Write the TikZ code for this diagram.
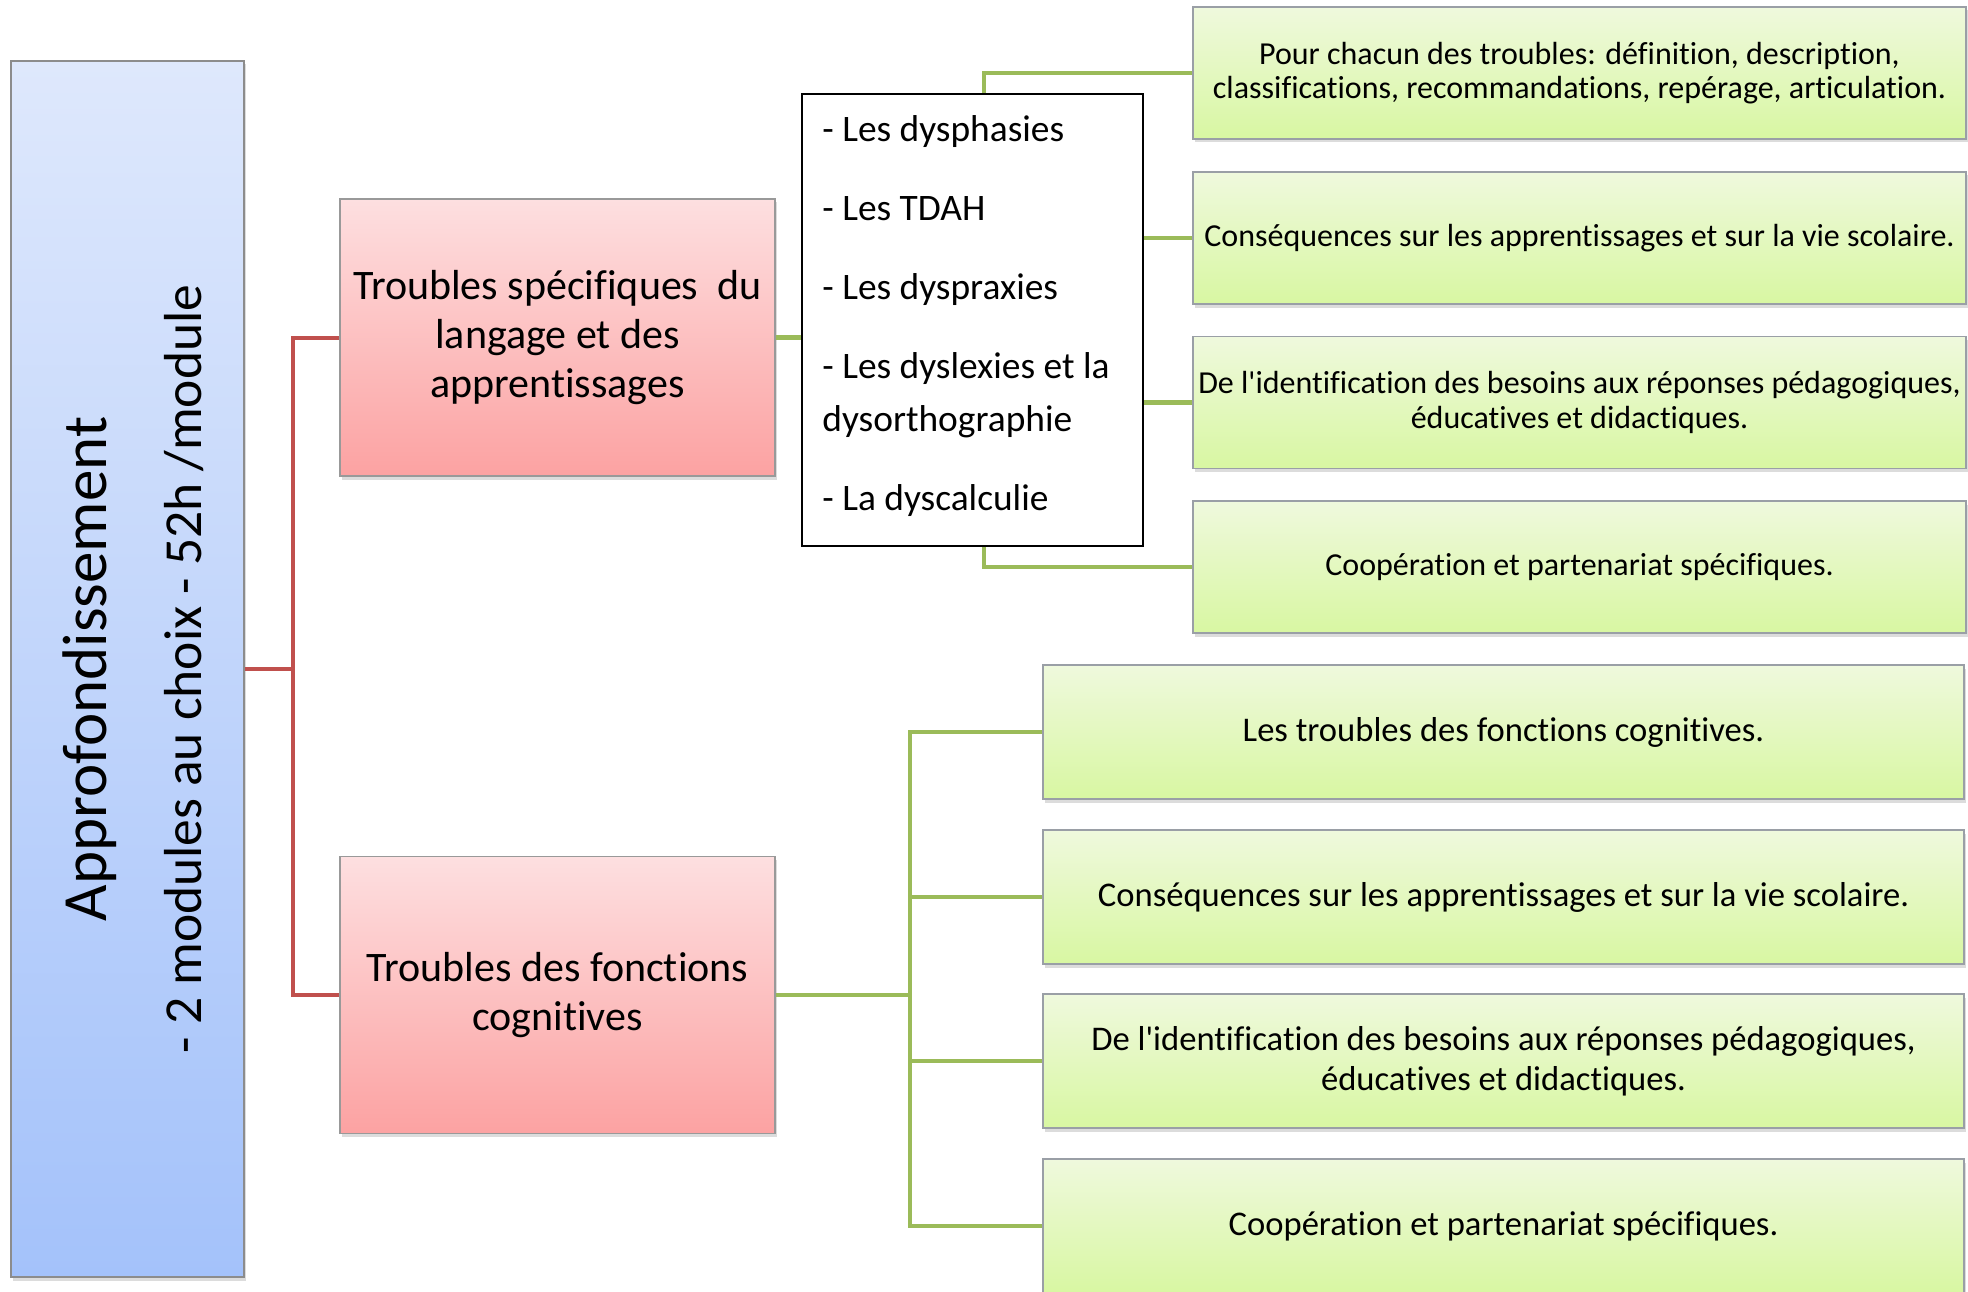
\documentclass[tikz,border=0pt]{standalone}
\usepackage{fontspec}
\setmainfont{Carlito}[Ligatures={NoCommon}]
\usetikzlibrary{shadows}
\definecolor{bluetop}{HTML}{DEE8FC}
\definecolor{bluebot}{HTML}{A4C2FA}
\definecolor{redtop}{HTML}{FDDFE0}
\definecolor{redbot}{HTML}{FCA2A2}
\definecolor{greentop}{HTML}{EFF9DD}
\definecolor{greenbot}{HTML}{D8F7A2}
\definecolor{redline}{HTML}{C0504D}
\definecolor{greenline}{HTML}{9BBB59}
\definecolor{boxborder}{HTML}{9A9FA6}
\begin{document}
\begin{tikzpicture}[x=1pt,y=-1pt,
  box/.style={draw=boxborder, line width=1.6pt, inner sep=0pt, align=center,
    drop shadow={shadow xshift=1.5pt, shadow yshift=-3.5pt, opacity=0.28}},
  bluebox/.style={box, draw=black!45, top color=bluetop, bottom color=bluebot,
    minimum width=233pt, minimum height=1216pt},
  redbox/.style={box, draw=black!40, top color=redtop, bottom color=redbot,
    minimum width=435pt, minimum height=277pt, font=\fontsize{42}{49}\selectfont},
  ugreen/.style={box, top color=greentop, bottom color=greenbot,
    minimum width=773pt, minimum height=132pt, font=\fontsize{32}{34.5}\selectfont},
  lgreen/.style={box, top color=greentop, bottom color=greenbot,
    minimum width=921pt, minimum height=134pt, font=\fontsize{34.6}{40}\selectfont},
  listbox/.style={draw=black, line width=2pt, fill=white, minimum width=341pt,
    minimum height=452pt, inner sep=0pt, align=left, text depth=14pt,
    font=\fontsize{37.4}{53}\selectfont},
  redconn/.style={draw=redline, line width=4pt},
  greenconn/.style={draw=greenline, line width=4.3pt}]
\useasboundingbox (0,0) rectangle (1968,1292);
\clip (0,0) rectangle (1968,1292);

% nodes
\node[bluebox] (blue) at (127.5,669) {};
\node[rotate=90, align=center, font=\fontsize{63}{95}\selectfont] (bluetxt) at (133,669)
  {Approfondissement\\{\fontsize{53.5}{95}\selectfont - 2 modules au choix - 52h /module}};

\node[redbox] (red1) at (557.5,337.5) {Troubles spécifiques\ \ du\\langage et des\\apprentissages};
\node[redbox] (red2) at (557.5,995) {Troubles des fonctions\\cognitives};

\node[listbox] (list) at (972.5,320) {- Les dysphasies\\[26pt]- Les TDAH\\[26pt]- Les dyspraxies\\[26pt]- Les dyslexies et la\hbox to 13pt{}\\dysorthographie\\[26pt]- La dyscalculie};

\node[ugreen] (ug1) at (1579.5,73) {Pour chacun des troubles: définition, description,\\classifications, recommandations, repérage, articulation.};
\node[ugreen] (ug2) at (1579.5,238) {Conséquences sur les apprentissages et sur la vie scolaire.};
\node[ugreen] (ug3) at (1579.5,402.5) {De l\textquotesingle identification des besoins aux réponses pédagogiques,\\éducatives et didactiques.};
\node[ugreen] (ug4) at (1579.5,567) {Coopération et partenariat spécifiques.};

\node[lgreen] (lg1) at (1503.5,732) {Les troubles des fonctions cognitives.};
\node[lgreen] (lg2) at (1503.5,897) {Conséquences sur les apprentissages et sur la vie scolaire.};
\node[lgreen] (lg3) at (1503.5,1061) {De l\textquotesingle identification des besoins aux réponses pédagogiques,\\éducatives et didactiques.};
\node[lgreen] (lg4) at (1503.5,1226) {Coopération et partenariat spécifiques.};

% connectors
\draw[redconn] (blue.east) -- ++(48,0) |- (red1.west);
\draw[redconn] (blue.east) -- ++(48,0) |- (red2.west);

\draw[greenconn] (red1.east) -- (list.west |- red1.east);
\draw[greenconn] ([xshift=11.5pt]list.north) |- (ug1.west);
\draw[greenconn] (list.east |- ug2.west) -- (ug2.west);
\draw[greenconn] (list.east |- ug3.west) -- (ug3.west);
\draw[greenconn] ([xshift=11.5pt]list.south) |- (ug4.west);

\coordinate (lb) at (910,995);
\draw[greenconn] (red2.east) -- (lb);
\draw[greenconn] (lb) |- (lg1.west);
\draw[greenconn] (lb) |- (lg2.west);
\draw[greenconn] (lb) |- (lg3.west);
\draw[greenconn] (lb) |- (lg4.west);
\end{tikzpicture}
\end{document}
